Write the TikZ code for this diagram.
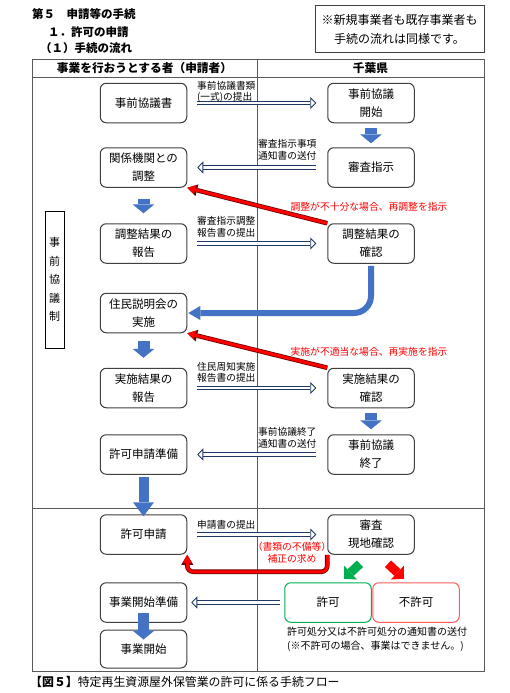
\documentclass[tikz,border=0pt]{standalone}
\usepackage{fontspec}
\setmainfont{Noto Sans CJK JP}
\usepackage{tikz}
\usetikzlibrary{arrows.meta}
\definecolor{boxline}{HTML}{404040}
\definecolor{gridline}{HTML}{595959}
\definecolor{navyline}{HTML}{1F3864}
\definecolor{bluefill}{HTML}{4472C4}
\definecolor{reddark}{HTML}{6E0000}
\definecolor{okgreen}{HTML}{00B050}
\definecolor{ngred}{HTML}{FF5B5B}

\begin{document}
\begin{tikzpicture}[x=1pt, y=-1pt,
		box/.style={draw=boxline, line width=1pt, rounded corners=6pt, minimum width=86.5pt, minimum height=39.5pt, align=center, inner sep=0pt, font=\fontsize{11.5}{18}\selectfont},
		sub/.style={anchor=west, align=left, inner sep=0pt, font=\fontsize{9.7}{11.5}\selectfont},
		redtext/.style={text=red, align=center, inner sep=0pt, font=\fontsize{9.8}{12}\selectfont},
		hollow/.style={draw=navyline, double=white, double distance=2.8pt, line width=0.85pt, -{Triangle[open, fill=white, length=6pt, width=12pt, line width=0.8pt]}},
		bluearr/.style={draw=bluefill, line width=12pt, -{Triangle[length=9pt, width=22pt, line width=0pt]}},
		redarr/.style={draw=red, line width=3pt, -{Triangle[length=8pt, width=9pt, line width=0pt]}, preaction={draw=reddark, line width=4.6pt, -{Triangle[length=10pt, width=12pt, line width=0pt]}}},
		grid/.style={draw=gridline, line width=0.9pt}]
	\fill[white] (0,0) rectangle (509,693);
	\useasboundingbox (0,0) rectangle (509,693);

	\node[anchor=west, inner sep=0pt, font=\bfseries\fontsize{11.5}{14}\selectfont] (ttl1) at (32,14) {第５　申請等の手続};
	\node[anchor=west, inner sep=0pt, font=\bfseries\fontsize{11.5}{14}\selectfont] (ttl2) at (48,32) {１．許可の申請};
	\node[anchor=west, inner sep=0pt, font=\bfseries\fontsize{11.5}{14}\selectfont] (ttl3) at (40,48) {（１）手続の流れ};
	\node[draw=boxline, line width=1pt, minimum width=169pt, minimum height=47pt, align=center, inner sep=0pt, font=\fontsize{12}{19}\selectfont] (memo) at (399.5,29.5) {※新規事業者も既存事業者も\\手続の流れは同様です。};

	\draw[grid] (32,59) rectangle (484,671);
	\draw[grid] (32,77) -- (484,77);
	\draw[grid] (257,59) -- (257,671);
	\draw[grid] (32,508) -- (484,508);
	\node[font=\bfseries\fontsize{11.7}{14}\selectfont, inner sep=0pt] (hd1) at (144.5,68) {事業を行おうとする者（申請者）};
	\node[font=\bfseries\fontsize{11.7}{14}\selectfont, inner sep=0pt] (hd2) at (370.5,68) {千葉県};

	\node[draw, line width=0.8pt, minimum width=19pt, minimum height=137pt, inner sep=0pt, align=center, font=\fontsize{11}{18.5}\selectfont] (seido) at (54.5,279.5) {事\\前\\協\\議\\制};

	\node[box] (soudansho) at (143.5,103) {事前協議書};
	\node[box] (kaishi) at (371,103) {事前協議\\開始};
	\node[box] (kankei) at (143.5,167.5) {関係機関との\\調整};
	\node[box] (shinsa) at (371,167.5) {審査指示};
	\node[box] (houkoku1) at (143.5,243.5) {調整結果の\\報告};
	\node[box] (kakunin1) at (371,243.5) {調整結果の\\確認};
	\node[box] (setsumei) at (143.5,313) {住民説明会の\\実施};
	\node[box] (houkoku2) at (143.5,388) {実施結果の\\報告};
	\node[box] (kakunin2) at (371,388) {実施結果の\\確認};
	\node[box] (junbi) at (143.5,454.5) {許可申請準備};
	\node[box] (shuryo) at (371,454.5) {事前協議\\終了};
	\node[box] (shinsei) at (143.5,534.5) {許可申請};
	\node[box] (genchi) at (371,534.5) {審査\\現地確認};
	\node[box] (kjunbi) at (143.5,602.5) {事業開始準備};
	\node[box, draw=okgreen] (kyoka) at (328,602.5) {許可};
	\node[box, draw=ngred] (fukyoka) at (416,602.5) {不許可};
	\node[box, minimum height=38pt] (jigyo) at (143.5,649) {事業開始};

	\draw[hollow, shorten <=10pt, shorten >=11pt] (soudansho.east) -- (kaishi.west);
	\draw[hollow, shorten <=11pt, shorten >=10pt] (shinsa.west) -- (kankei.east);
	\draw[hollow, shorten <=10pt, shorten >=11pt] (houkoku1.east) -- (kakunin1.west);
	\draw[hollow, shorten <=10pt, shorten >=11pt] (houkoku2.east) -- (kakunin2.west);
	\draw[hollow, shorten <=11pt, shorten >=10pt] (shuryo.west) -- (junbi.east);
	\draw[hollow, shorten <=10pt, shorten >=11pt] (shinsei.east) -- (genchi.west);
	\draw[hollow, shorten <=4pt, shorten >=4pt] (kyoka.west) -- (kjunbi.east);

	\node[sub] (lb1) at (197,92) {事前協議書類\\(一式)の提出};
	\node[sub] (lb2) at (258,150) {審査指示事項\\通知書の送付};
	\node[sub] (lb3) at (197,227) {審査指示調整\\報告書の提出};
	\node[sub] (lb4) at (197,372.5) {住民周知実施\\報告書の提出};
	\node[sub] (lb5) at (258,438) {事前協議終了\\通知書の送付};
	\node[sub] (lb6) at (197,525) {申請書の提出};

	\draw[bluearr, shorten <=5pt, shorten >=4pt] (kaishi.south) -- (shinsa.north);
	\draw[bluearr, shorten <=11pt, shorten >=10pt] (kankei.south) -- (houkoku1.north);
	\draw[bluearr, shorten <=8pt, shorten >=10pt] (setsumei.south) -- (houkoku2.north);
	\draw[bluearr, shorten <=5pt, shorten >=5pt] (kakunin2.south) -- (shuryo.north);
	\draw[bluearr, line width=10pt, -{Triangle[length=14pt, width=21pt, line width=0pt]}, shorten <=2pt, shorten >=-2pt] (junbi.south) -- (shinsei.north);
	\draw[bluearr, line width=11pt, shorten <=-10pt, shorten >=-10pt] (kjunbi.south) -- (jigyo.north);
	\draw[draw=bluefill, line width=6pt, rounded corners=17pt, -{Triangle[length=12pt, width=14pt, line width=0pt]}, shorten <=2pt, shorten >=1pt] (kakunin1.south) |- (setsumei.east);

	\draw[redarr] (kakunin1.north west) -- (kankei.south east);
	\draw[redarr] (kakunin2.north west) -- (setsumei.south east);
	\draw[redarr, rounded corners=6pt] (genchi.south west) -- ++(0,17) -| (shinsei.south east);
	\node[redtext] (rd1) at (369,207) {調整が不十分な場合、再調整を指示};
	\node[redtext] (rd2) at (369,352) {実施が不適当な場合、再実施を指示};
	\node[redtext] (rd3) at (292,553) {（書類の不備等）\\補正の求め};

	\draw[draw=okgreen, line width=9pt, -{Triangle[length=9pt, width=19pt, line width=0pt]}] ([xshift=-11pt, yshift=-9pt]genchi.south) -- ([xshift=-27pt, yshift=-24pt]genchi.south);
	\draw[draw=red, line width=9pt, -{Triangle[length=9pt, width=19pt, line width=0pt]}] ([xshift=17pt, yshift=-9pt]genchi.south) -- ([xshift=33pt, yshift=-24pt]genchi.south);

	\node[sub, font=\fontsize{10}{14}\selectfont] (tsuchi) at (287,639) {許可処分又は不許可処分の通知書の送付\\(※不許可の場合、事業はできません。)};

	\node[anchor=west, inner sep=0pt, font=\fontsize{11.9}{14}\selectfont] (cap) at (30,682) {\textbf{【図５】}特定再生資源屋外保管業の許可に係る手続フロー};
\end{tikzpicture}
\end{document}
